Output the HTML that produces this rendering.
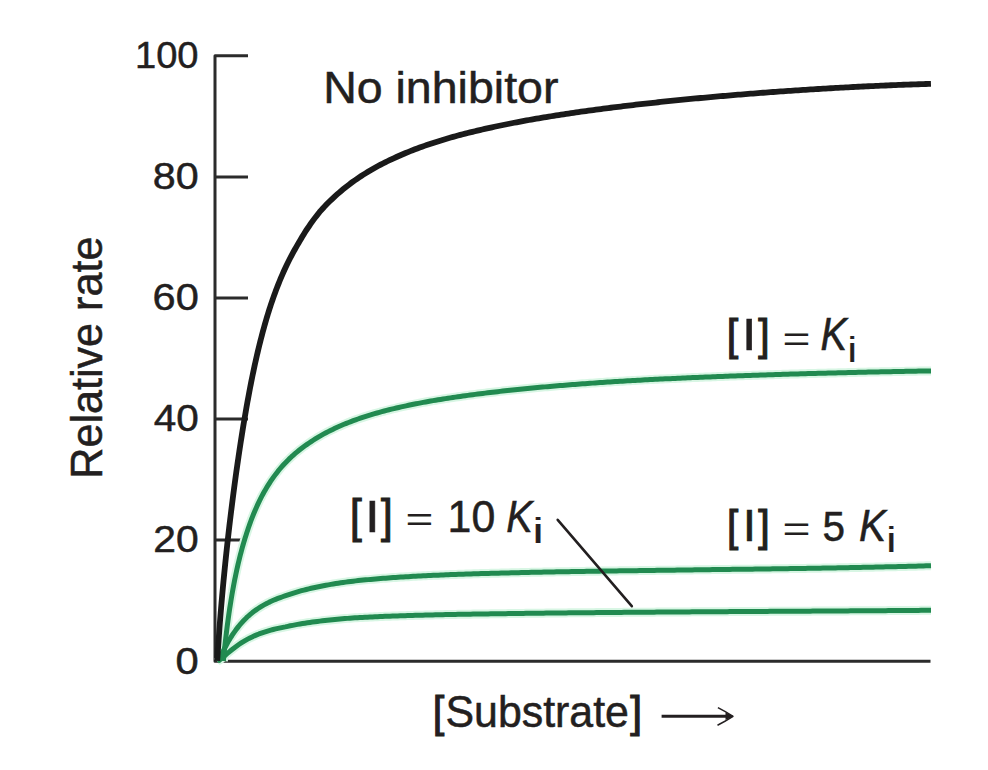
<!DOCTYPE html>
<html><head><meta charset="utf-8"><style>
html,body{margin:0;padding:0;background:#fff;}
body{width:988px;height:770px;overflow:hidden;position:relative;}
svg{position:absolute;left:0;top:0;}
text{font-family:"Liberation Sans",sans-serif;fill:#231f20;}
</style></head><body>
<svg width="988" height="770" viewBox="0 0 988 770">
<g stroke="#2b2b2b" stroke-width="3" fill="none" stroke-linecap="butt">
<path d="M248,55.8 H215 V661.3 H930.5" stroke-linejoin="round"/>
<path d="M215,176.9 H248 M215,297.9 H248 M215,418.9 H248 M215,540 H248"/>
</g>
<g fill="#231f20" stroke="#231f20">
<text transform="translate(134.94,67.71) scale(1.0034,0.9855)" font-size="38" stroke-width="0.5">100</text>
<text transform="translate(152.87,188.90) scale(1.0861,0.9927)" font-size="38" stroke-width="0.5">80</text>
<text transform="translate(152.59,309.91) scale(1.0930,0.9891)" font-size="38" stroke-width="0.5">60</text>
<text transform="translate(153.67,431.21) scale(1.0667,0.9782)" font-size="38" stroke-width="0.5">40</text>
<text transform="translate(153.32,552.21) scale(1.0752,0.9782)" font-size="38" stroke-width="0.5">20</text>
<text transform="translate(175.53,673.90) scale(1.0987,0.9927)" font-size="38" stroke-width="0.5">0</text>
<text transform="translate(323.16,103.23) scale(1.0574,1.0212)" font-size="44" stroke-width="0.5">No inhibitor</text>
<text transform="translate(102.23,478.76) rotate(-90) scale(1.0034,1.0295)" font-size="43" stroke-width="0.5">Relative rate</text>
<text transform="translate(726.64,349.72) scale(1.0054,1.0974)" font-size="41" stroke-width="1.1">[</text>
<text transform="translate(741.95,350.43) scale(1.2706,1.0912)" font-size="41" stroke-width="0.5">I</text>
<text transform="translate(758.15,349.72) scale(0.9946,1.0974)" font-size="41" stroke-width="1.1">]</text>
<text transform="translate(782.46,350.56) scale(1.1700,0.8528)" font-size="41" stroke-width="0">=</text>
<text transform="translate(820.43,350.22) scale(0.9699,1.1158)" font-size="41" stroke-width="0.5" font-style="italic">K</text>
<text transform="translate(847.46,361.90) scale(1.1714,0.9714)" font-size="36" stroke-width="0.2">i</text>
<text transform="translate(349.99,531.55) scale(1.0270,1.1051)" font-size="41" stroke-width="1.1">[</text>
<text transform="translate(365.07,531.83) scale(1.2941,1.0772)" font-size="41" stroke-width="0.5">I</text>
<text transform="translate(380.95,531.55) scale(1.0162,1.1051)" font-size="41" stroke-width="1.1">]</text>
<text transform="translate(405.47,531.45) scale(1.1650,0.8075)" font-size="41" stroke-width="0">=</text>
<text transform="translate(447.57,532.30) scale(1.0448,1.0712)" font-size="41" stroke-width="0.5">10</text>
<text transform="translate(506.23,532.23) scale(0.9664,1.0877)" font-size="41" stroke-width="0.5" font-style="italic">K</text>
<text transform="translate(532.55,542.90) scale(1.4000,0.9752)" font-size="36" stroke-width="0.2">i</text>
<text transform="translate(726.89,540.62) scale(0.9838,1.0974)" font-size="41" stroke-width="1.1">[</text>
<text transform="translate(742.78,540.73) scale(1.1765,1.0632)" font-size="41" stroke-width="0.5">I</text>
<text transform="translate(758.35,540.62) scale(1.0054,1.0974)" font-size="41" stroke-width="1.1">]</text>
<text transform="translate(782.46,541.31) scale(1.1700,0.8604)" font-size="41" stroke-width="0">=</text>
<text transform="translate(822.42,541.01) scale(0.9873,1.0586)" font-size="41" stroke-width="0.5">5</text>
<text transform="translate(859.11,540.93) scale(0.9876,1.0947)" font-size="41" stroke-width="0.5" font-style="italic">K</text>
<text transform="translate(886.27,551.80) scale(1.2571,0.9562)" font-size="36" stroke-width="0.2">i</text>
<text transform="translate(432.69,727.25) scale(0.9641,1.0473)" font-size="43" stroke-width="1.1">[</text>
<text transform="translate(445.45,727.12) scale(0.9975,1.0450)" font-size="43" stroke-width="0.5">Substrate</text>
<text transform="translate(630.15,727.25) scale(0.9949,1.0473)" font-size="43" stroke-width="1.1">]</text>
</g>
<g stroke="#231f20" stroke-width="3" fill="none">
<path d="M661.6,716.3 H729"/>
</g>
<path d="M717.9,707.6 Q725.5,711.4 733,716.3 M717.5,725.2 Q725.5,721.2 733,716.3" stroke="#231f20" stroke-width="1.6" fill="none" stroke-linecap="butt"/>
<path d="M725.5,712.6 L734.2,716.3 L725.5,720 Z" fill="#231f20"/>
<g fill="none" stroke-linecap="butt" stroke-linejoin="round">
<path d="M217.38,661.14 L219.60,659.93 L221.61,658.38 L223.54,656.75 L225.45,655.10 L227.36,653.46 L229.27,651.84 L231.21,650.25 L233.17,648.70 L235.16,647.19 L237.17,645.71 L239.20,644.27 L241.27,642.89 L243.37,641.57 L245.51,640.31 L247.68,639.10 L249.88,637.96 L252.12,636.88 L254.38,635.85 L256.66,634.89 L258.97,633.97 L261.30,633.11 L263.64,632.30 L266.01,631.54 L268.39,630.82 L270.78,630.15 L273.18,629.51 L275.60,628.92 L278.02,628.36 L280.45,627.83 L282.90,627.33 L285.34,626.87 L287.78,626.33 L290.22,625.82 L292.67,625.33 L295.12,624.86 L297.58,624.41 L300.05,623.98 L302.52,623.57 L304.99,623.18 L307.46,622.81 L309.94,622.44 L312.43,622.10 L314.91,621.77 L317.40,621.44 L319.89,621.14 L322.38,620.84 L324.88,620.55 L327.37,620.28 L329.87,620.01 L332.37,619.75 L334.87,619.50 L337.37,619.26 L339.87,619.02 L342.37,618.80 L344.88,618.58 L347.38,618.37 L349.89,618.16 L352.39,618.00 L354.90,617.84 L357.41,617.70 L359.92,617.55 L362.43,617.42 L364.94,617.28 L367.46,617.15 L369.97,617.03 L372.48,616.91 L374.99,616.79 L377.50,616.68 L380.02,616.57 L382.53,616.47 L385.04,616.36 L387.55,616.26 L390.07,616.17 L392.58,616.07 L395.09,615.98 L397.61,615.89 L400.12,615.81 L402.64,615.73 L405.15,615.64 L407.66,615.57 L410.18,615.49 L412.69,615.42 L415.21,615.34 L417.72,615.27 L420.24,615.20 L422.75,615.14 L425.27,615.07 L427.78,615.01 L430.30,614.95 L432.81,614.89 L435.33,614.83 L437.84,614.77 L440.36,614.72 L442.87,614.66 L445.39,614.61 L447.90,614.56 L450.42,614.51 L452.93,614.46 L455.45,614.41 L457.96,614.36 L460.48,614.32 L462.99,614.27 L465.51,614.23 L468.02,614.19 L470.54,614.14 L473.06,614.10 L475.57,614.06 L478.09,614.02 L480.60,613.99 L483.12,613.95 L485.63,613.91 L488.15,613.88 L490.67,613.84 L493.18,613.81 L495.70,613.77 L498.21,613.74 L500.73,613.70 L503.24,613.67 L505.76,613.63 L508.28,613.59 L510.79,613.56 L513.31,613.52 L515.82,613.49 L518.34,613.46 L520.86,613.42 L523.37,613.39 L525.89,613.36 L528.40,613.32 L530.92,613.29 L533.44,613.26 L535.95,613.23 L538.47,613.20 L540.98,613.17 L543.50,613.14 L546.02,613.11 L548.53,613.09 L551.05,613.06 L553.56,613.03 L556.08,613.00 L558.60,612.98 L561.11,612.95 L563.63,612.92 L566.14,612.90 L568.66,612.87 L571.18,612.85 L573.69,612.82 L576.21,612.80 L578.72,612.77 L581.24,612.75 L583.76,612.72 L586.27,612.70 L588.79,612.68 L591.30,612.65 L593.82,612.63 L596.34,612.61 L598.85,612.59 L601.37,612.56 L603.89,612.54 L606.40,612.52 L608.92,612.50 L611.43,612.48 L613.95,612.45 L616.47,612.43 L618.98,612.41 L621.50,612.39 L624.02,612.37 L626.53,612.35 L629.05,612.33 L631.56,612.31 L634.08,612.29 L636.60,612.27 L639.11,612.25 L641.63,612.23 L644.14,612.21 L646.66,612.19 L649.18,612.17 L651.69,612.16 L654.21,612.14 L656.73,612.12 L659.24,612.10 L661.76,612.08 L664.27,612.06 L666.79,612.04 L669.31,612.03 L671.82,612.01 L674.34,611.99 L676.86,611.97 L679.37,611.95 L681.89,611.94 L684.40,611.92 L686.92,611.90 L689.44,611.88 L691.95,611.86 L694.47,611.85 L696.99,611.83 L699.50,611.81 L702.02,611.79 L704.54,611.78 L707.05,611.76 L709.57,611.74 L712.08,611.73 L714.60,611.71 L717.12,611.69 L719.63,611.67 L722.15,611.66 L724.67,611.64 L727.18,611.63 L729.70,611.61 L732.21,611.60 L734.73,611.58 L737.25,611.57 L739.76,611.55 L742.28,611.54 L744.80,611.52 L747.31,611.51 L749.83,611.49 L752.34,611.48 L754.86,611.46 L757.38,611.45 L759.89,611.43 L762.41,611.42 L764.93,611.40 L767.44,611.39 L769.96,611.37 L772.47,611.36 L774.99,611.34 L777.51,611.33 L780.02,611.31 L782.54,611.30 L785.06,611.28 L787.57,611.27 L790.09,611.25 L792.61,611.24 L795.12,611.22 L797.64,611.21 L800.15,611.19 L802.67,611.18 L805.19,611.16 L807.70,611.14 L810.22,611.13 L812.74,611.11 L815.25,611.10 L817.77,611.08 L820.28,611.07 L822.80,611.05 L825.32,611.03 L827.83,611.02 L830.35,611.00 L832.87,610.99 L835.38,610.97 L837.90,610.95 L840.41,610.94 L842.93,610.92 L845.45,610.90 L847.96,610.89 L850.48,610.87 L853.00,610.85 L855.51,610.84 L858.03,610.82 L860.55,610.80 L863.06,610.79 L865.58,610.77 L868.09,610.75 L870.61,610.73 L873.13,610.72 L875.64,610.70 L878.16,610.68 L880.68,610.66 L883.19,610.65 L885.71,610.63 L888.22,610.61 L890.74,610.59 L893.26,610.57 L895.77,610.55 L898.29,610.54 L900.81,610.52 L903.32,610.50 L905.84,610.48 L908.35,610.46 L910.87,610.44 L913.39,610.42 L915.90,610.40 L918.42,610.38 L920.94,610.36 L923.45,610.34 L925.97,610.32 L928.48,610.30 L931.00,610.28" stroke="#d8f6e4" stroke-width="9"/>
<path d="M217.99,661.39 L219.25,659.21 L220.38,656.96 L221.48,654.69 L222.58,652.44 L223.70,650.19 L224.84,647.95 L226.01,645.73 L227.20,643.53 L228.43,641.34 L229.70,639.19 L231.01,637.06 L232.37,634.96 L233.77,632.89 L235.21,630.86 L236.69,628.85 L238.21,626.88 L239.77,624.95 L241.39,623.07 L243.06,621.23 L244.78,619.44 L246.55,617.71 L248.37,616.03 L250.24,614.41 L252.15,612.84 L254.11,611.33 L256.11,609.88 L258.15,608.49 L260.23,607.16 L262.34,605.88 L264.49,604.66 L266.67,603.50 L268.88,602.38 L271.11,601.33 L273.36,600.32 L275.64,599.36 L277.94,598.44 L280.26,597.57 L282.59,596.74 L284.93,595.95 L287.27,595.14 L289.62,594.32 L291.97,593.54 L294.34,592.79 L296.72,592.07 L299.11,591.38 L301.51,590.71 L303.92,590.07 L306.33,589.46 L308.76,588.86 L311.19,588.29 L313.63,587.75 L316.07,587.22 L318.52,586.71 L320.97,586.21 L323.43,585.74 L325.89,585.28 L328.35,584.84 L330.82,584.41 L333.29,583.99 L335.76,583.59 L338.24,583.20 L340.72,582.83 L343.20,582.46 L345.68,582.11 L348.17,581.77 L350.66,581.44 L353.15,581.15 L355.65,580.88 L358.14,580.61 L360.64,580.35 L363.13,580.10 L365.63,579.85 L368.13,579.62 L370.63,579.39 L373.13,579.17 L375.64,578.95 L378.14,578.74 L380.64,578.54 L383.14,578.34 L385.65,578.15 L388.15,577.96 L390.66,577.78 L393.16,577.61 L395.67,577.44 L398.18,577.27 L400.68,577.11 L403.19,576.95 L405.70,576.80 L408.21,576.65 L410.72,576.50 L413.22,576.36 L415.73,576.22 L418.24,576.09 L420.75,575.96 L423.26,575.83 L425.77,575.71 L428.28,575.59 L430.79,575.47 L433.30,575.35 L435.81,575.24 L438.32,575.13 L440.83,575.02 L443.34,574.92 L445.86,574.82 L448.37,574.72 L450.88,574.62 L453.39,574.53 L455.90,574.43 L458.41,574.34 L460.93,574.25 L463.44,574.17 L465.95,574.08 L468.46,574.00 L470.97,573.92 L473.49,573.84 L476.00,573.76 L478.51,573.69 L481.02,573.61 L483.54,573.54 L486.05,573.47 L488.56,573.40 L491.07,573.33 L493.59,573.26 L496.10,573.20 L498.61,573.13 L501.13,573.07 L503.64,573.00 L506.15,572.94 L508.66,572.88 L511.18,572.81 L513.69,572.75 L516.20,572.69 L518.72,572.63 L521.23,572.58 L523.74,572.52 L526.26,572.46 L528.77,572.41 L531.28,572.36 L533.80,572.30 L536.31,572.25 L538.82,572.20 L541.34,572.15 L543.85,572.10 L546.36,572.05 L548.88,572.00 L551.39,571.95 L553.91,571.91 L556.42,571.86 L558.93,571.82 L561.45,571.77 L563.96,571.73 L566.47,571.68 L568.99,571.64 L571.50,571.60 L574.02,571.55 L576.53,571.51 L579.04,571.47 L581.56,571.43 L584.07,571.39 L586.58,571.35 L589.10,571.31 L591.61,571.27 L594.13,571.23 L596.64,571.20 L599.15,571.16 L601.67,571.12 L604.18,571.08 L606.70,571.05 L609.21,571.01 L611.72,570.97 L614.24,570.94 L616.75,570.90 L619.27,570.87 L621.78,570.83 L624.29,570.80 L626.81,570.76 L629.32,570.73 L631.84,570.69 L634.35,570.66 L636.86,570.63 L639.38,570.59 L641.89,570.56 L644.41,570.52 L646.92,570.49 L649.43,570.46 L651.95,570.42 L654.46,570.39 L656.98,570.36 L659.49,570.33 L662.01,570.29 L664.52,570.26 L667.03,570.23 L669.55,570.19 L672.06,570.16 L674.58,570.13 L677.09,570.09 L679.60,570.06 L682.12,570.03 L684.63,569.99 L687.15,569.96 L689.66,569.93 L692.17,569.89 L694.69,569.86 L697.20,569.83 L699.72,569.79 L702.23,569.76 L704.74,569.73 L707.26,569.69 L709.77,569.66 L712.29,569.62 L714.80,569.59 L717.31,569.55 L719.83,569.52 L722.34,569.49 L724.86,569.46 L727.37,569.43 L729.89,569.40 L732.40,569.37 L734.91,569.35 L737.43,569.32 L739.94,569.29 L742.46,569.26 L744.97,569.23 L747.48,569.19 L750.00,569.16 L752.51,569.13 L755.03,569.10 L757.54,569.07 L760.05,569.04 L762.57,569.00 L765.08,568.97 L767.60,568.94 L770.11,568.90 L772.63,568.87 L775.14,568.84 L777.65,568.80 L780.17,568.77 L782.68,568.73 L785.20,568.70 L787.71,568.66 L790.22,568.62 L792.74,568.59 L795.25,568.55 L797.77,568.51 L800.28,568.47 L802.79,568.44 L805.31,568.40 L807.82,568.36 L810.34,568.32 L812.85,568.28 L815.36,568.24 L817.88,568.19 L820.39,568.15 L822.91,568.11 L825.42,568.07 L827.93,568.02 L830.45,567.98 L832.96,567.94 L835.48,567.89 L837.99,567.85 L840.50,567.80 L843.02,567.75 L845.53,567.71 L848.04,567.66 L850.56,567.61 L853.07,567.56 L855.59,567.51 L858.10,567.46 L860.61,567.41 L863.13,567.36 L865.64,567.31 L868.16,567.26 L870.67,567.20 L873.18,567.15 L875.70,567.10 L878.21,567.04 L880.72,566.98 L883.24,566.93 L885.75,566.87 L888.26,566.81 L890.78,566.76 L893.29,566.70 L895.81,566.64 L898.32,566.58 L900.83,566.52 L903.35,566.46 L905.86,566.39 L908.37,566.33 L910.89,566.27 L913.40,566.20 L915.91,566.14 L918.43,566.07 L920.94,566.00 L923.45,565.94 L925.97,565.87 L928.48,565.80 L930.99,565.73" stroke="#d8f6e4" stroke-width="9"/>
<path d="M223.40,661.01 L223.61,658.51 L223.84,656.02 L224.09,653.52 L224.34,651.02 L224.60,648.53 L224.86,646.04 L225.14,643.54 L225.42,641.05 L225.71,638.56 L226.00,636.07 L226.30,633.58 L226.60,631.09 L226.92,628.60 L227.23,626.11 L227.56,623.63 L227.90,621.14 L228.24,618.66 L228.59,616.17 L228.94,613.69 L229.31,611.21 L229.68,608.73 L230.06,606.25 L230.45,603.77 L230.85,601.30 L231.25,598.82 L231.67,596.35 L232.09,593.88 L232.53,591.41 L232.97,588.95 L233.43,586.48 L233.89,584.02 L234.37,581.56 L234.86,579.10 L235.35,576.65 L235.86,574.19 L236.39,571.74 L236.92,569.29 L237.47,566.85 L238.03,564.41 L238.60,561.97 L239.19,559.54 L239.79,557.11 L240.41,554.68 L241.04,552.26 L241.69,549.84 L242.35,547.43 L243.03,545.02 L243.73,542.62 L244.45,540.23 L245.18,537.84 L245.94,535.45 L246.70,533.07 L247.47,530.70 L248.26,528.33 L249.07,525.96 L249.91,523.61 L250.76,521.27 L251.64,518.93 L252.54,516.60 L253.47,514.29 L254.42,511.98 L255.39,509.68 L256.40,507.40 L257.43,505.13 L258.48,502.87 L259.57,500.63 L260.68,498.40 L261.83,496.19 L263.00,493.99 L264.20,491.82 L265.44,489.66 L266.70,487.52 L268.00,485.40 L269.33,483.30 L270.70,481.22 L272.10,479.16 L273.53,477.13 L274.99,475.13 L276.49,473.15 L278.02,471.19 L279.59,469.27 L281.19,467.37 L282.83,465.52 L284.51,463.69 L286.23,461.90 L287.97,460.14 L289.75,458.41 L291.55,456.71 L293.39,455.05 L295.25,453.42 L297.15,451.83 L299.07,450.27 L301.02,448.74 L303.00,447.25 L305.00,445.79 L307.02,444.37 L309.07,442.98 L311.14,441.62 L313.21,440.26 L315.30,438.94 L317.41,437.64 L319.54,436.37 L321.69,435.14 L323.85,433.93 L326.03,432.75 L328.23,431.60 L330.45,430.48 L332.68,429.39 L334.92,428.32 L337.18,427.28 L339.45,426.27 L341.73,425.28 L344.02,424.31 L346.32,423.37 L348.63,422.45 L350.95,421.56 L353.28,420.68 L355.62,419.83 L357.97,419.00 L360.33,418.18 L362.69,417.39 L365.06,416.62 L367.43,415.86 L369.82,415.12 L372.20,414.40 L374.60,413.69 L376.99,413.00 L379.40,412.33 L381.81,411.67 L384.22,411.03 L386.63,410.40 L389.05,409.78 L391.48,409.18 L393.91,408.59 L396.34,408.01 L398.77,407.45 L401.21,406.89 L403.65,406.35 L406.09,405.82 L408.54,405.30 L410.99,404.80 L413.44,404.30 L415.89,403.81 L418.35,403.33 L420.80,402.86 L423.26,402.40 L425.72,401.95 L428.19,401.51 L430.65,401.07 L433.12,400.65 L435.59,400.23 L438.06,399.82 L440.53,399.42 L443.00,399.02 L445.47,398.63 L447.95,398.25 L450.42,397.88 L452.90,397.51 L455.38,397.15 L457.86,396.79 L460.34,396.44 L462.82,396.08 L465.30,395.73 L467.78,395.39 L470.26,395.05 L472.74,394.72 L475.23,394.39 L477.71,394.06 L480.20,393.75 L482.68,393.43 L485.17,393.12 L487.66,392.82 L490.15,392.52 L492.63,392.22 L495.12,391.93 L497.61,391.65 L500.11,391.36 L502.60,391.08 L505.09,390.81 L507.58,390.54 L510.07,390.27 L512.57,390.01 L515.06,389.75 L517.55,389.49 L520.05,389.24 L522.54,388.99 L525.04,388.74 L527.53,388.50 L530.03,388.26 L532.53,388.02 L535.02,387.79 L537.52,387.56 L540.02,387.33 L542.52,387.11 L545.01,386.88 L547.51,386.66 L550.01,386.45 L552.51,386.23 L555.01,386.02 L557.51,385.81 L560.01,385.61 L562.51,385.40 L565.01,385.20 L567.51,385.00 L570.01,384.80 L572.51,384.61 L575.01,384.42 L577.51,384.23 L580.01,384.04 L582.52,383.85 L585.02,383.67 L587.52,383.49 L590.02,383.31 L592.52,383.13 L595.03,382.95 L597.53,382.78 L600.03,382.61 L602.53,382.44 L605.04,382.27 L607.54,382.10 L610.04,381.94 L612.55,381.77 L615.05,381.61 L617.56,381.45 L620.06,381.29 L622.56,381.14 L625.07,380.98 L627.57,380.83 L630.08,380.68 L632.58,380.54 L635.09,380.40 L637.59,380.27 L640.10,380.13 L642.60,380.00 L645.11,379.87 L647.61,379.74 L650.12,379.61 L652.63,379.48 L655.13,379.36 L657.64,379.23 L660.14,379.11 L662.65,378.99 L665.16,378.87 L667.66,378.75 L670.17,378.63 L672.67,378.51 L675.18,378.40 L677.69,378.28 L680.19,378.17 L682.70,378.06 L685.21,377.94 L687.71,377.83 L690.22,377.72 L692.73,377.62 L695.23,377.51 L697.74,377.40 L700.25,377.30 L702.75,377.20 L705.26,377.09 L707.77,376.99 L710.28,376.89 L712.78,376.79 L715.29,376.69 L717.80,376.59 L720.31,376.50 L722.81,376.40 L725.32,376.30 L727.83,376.21 L730.33,376.12 L732.84,376.02 L735.35,375.93 L737.86,375.84 L740.37,375.75 L742.87,375.66 L745.38,375.57 L747.89,375.49 L750.40,375.40 L752.90,375.31 L755.41,375.23 L757.92,375.15 L760.43,375.06 L762.94,374.98 L765.44,374.90 L767.95,374.82 L770.46,374.74 L772.97,374.66 L775.48,374.58 L777.98,374.50 L780.49,374.42 L783.00,374.35 L785.51,374.27 L788.02,374.19 L790.52,374.12 L793.03,374.05 L795.54,373.97 L798.05,373.90 L800.56,373.83 L803.07,373.76 L805.57,373.69 L808.08,373.62 L810.59,373.55 L813.10,373.48 L815.61,373.41 L818.12,373.34 L820.62,373.28 L823.13,373.21 L825.64,373.15 L828.15,373.08 L830.66,373.02 L833.17,372.95 L835.68,372.89 L838.18,372.83 L840.69,372.77 L843.20,372.70 L845.71,372.64 L848.22,372.58 L850.73,372.52 L853.24,372.46 L855.74,372.41 L858.25,372.35 L860.76,372.29 L863.27,372.23 L865.78,372.18 L868.29,372.12 L870.80,372.07 L873.31,372.01 L875.81,371.96 L878.32,371.90 L880.83,371.85 L883.34,371.80 L885.85,371.75 L888.36,371.70 L890.87,371.65 L893.38,371.59 L895.88,371.54 L898.39,371.50 L900.90,371.45 L903.41,371.40 L905.92,371.35 L908.43,371.30 L910.94,371.26 L913.45,371.21 L915.96,371.16 L918.47,371.12 L920.97,371.07 L923.48,371.03 L925.99,370.98 L928.50,370.94 L931.01,370.90" stroke="#d8f6e4" stroke-width="9"/>
<path d="M217.38,661.14 L219.60,659.93 L221.61,658.38 L223.54,656.75 L225.45,655.10 L227.36,653.46 L229.27,651.84 L231.21,650.25 L233.17,648.70 L235.16,647.19 L237.17,645.71 L239.20,644.27 L241.27,642.89 L243.37,641.57 L245.51,640.31 L247.68,639.10 L249.88,637.96 L252.12,636.88 L254.38,635.85 L256.66,634.89 L258.97,633.97 L261.30,633.11 L263.64,632.30 L266.01,631.54 L268.39,630.82 L270.78,630.15 L273.18,629.51 L275.60,628.92 L278.02,628.36 L280.45,627.83 L282.90,627.33 L285.34,626.87 L287.78,626.33 L290.22,625.82 L292.67,625.33 L295.12,624.86 L297.58,624.41 L300.05,623.98 L302.52,623.57 L304.99,623.18 L307.46,622.81 L309.94,622.44 L312.43,622.10 L314.91,621.77 L317.40,621.44 L319.89,621.14 L322.38,620.84 L324.88,620.55 L327.37,620.28 L329.87,620.01 L332.37,619.75 L334.87,619.50 L337.37,619.26 L339.87,619.02 L342.37,618.80 L344.88,618.58 L347.38,618.37 L349.89,618.16 L352.39,618.00 L354.90,617.84 L357.41,617.70 L359.92,617.55 L362.43,617.42 L364.94,617.28 L367.46,617.15 L369.97,617.03 L372.48,616.91 L374.99,616.79 L377.50,616.68 L380.02,616.57 L382.53,616.47 L385.04,616.36 L387.55,616.26 L390.07,616.17 L392.58,616.07 L395.09,615.98 L397.61,615.89 L400.12,615.81 L402.64,615.73 L405.15,615.64 L407.66,615.57 L410.18,615.49 L412.69,615.42 L415.21,615.34 L417.72,615.27 L420.24,615.20 L422.75,615.14 L425.27,615.07 L427.78,615.01 L430.30,614.95 L432.81,614.89 L435.33,614.83 L437.84,614.77 L440.36,614.72 L442.87,614.66 L445.39,614.61 L447.90,614.56 L450.42,614.51 L452.93,614.46 L455.45,614.41 L457.96,614.36 L460.48,614.32 L462.99,614.27 L465.51,614.23 L468.02,614.19 L470.54,614.14 L473.06,614.10 L475.57,614.06 L478.09,614.02 L480.60,613.99 L483.12,613.95 L485.63,613.91 L488.15,613.88 L490.67,613.84 L493.18,613.81 L495.70,613.77 L498.21,613.74 L500.73,613.70 L503.24,613.67 L505.76,613.63 L508.28,613.59 L510.79,613.56 L513.31,613.52 L515.82,613.49 L518.34,613.46 L520.86,613.42 L523.37,613.39 L525.89,613.36 L528.40,613.32 L530.92,613.29 L533.44,613.26 L535.95,613.23 L538.47,613.20 L540.98,613.17 L543.50,613.14 L546.02,613.11 L548.53,613.09 L551.05,613.06 L553.56,613.03 L556.08,613.00 L558.60,612.98 L561.11,612.95 L563.63,612.92 L566.14,612.90 L568.66,612.87 L571.18,612.85 L573.69,612.82 L576.21,612.80 L578.72,612.77 L581.24,612.75 L583.76,612.72 L586.27,612.70 L588.79,612.68 L591.30,612.65 L593.82,612.63 L596.34,612.61 L598.85,612.59 L601.37,612.56 L603.89,612.54 L606.40,612.52 L608.92,612.50 L611.43,612.48 L613.95,612.45 L616.47,612.43 L618.98,612.41 L621.50,612.39 L624.02,612.37 L626.53,612.35 L629.05,612.33 L631.56,612.31 L634.08,612.29 L636.60,612.27 L639.11,612.25 L641.63,612.23 L644.14,612.21 L646.66,612.19 L649.18,612.17 L651.69,612.16 L654.21,612.14 L656.73,612.12 L659.24,612.10 L661.76,612.08 L664.27,612.06 L666.79,612.04 L669.31,612.03 L671.82,612.01 L674.34,611.99 L676.86,611.97 L679.37,611.95 L681.89,611.94 L684.40,611.92 L686.92,611.90 L689.44,611.88 L691.95,611.86 L694.47,611.85 L696.99,611.83 L699.50,611.81 L702.02,611.79 L704.54,611.78 L707.05,611.76 L709.57,611.74 L712.08,611.73 L714.60,611.71 L717.12,611.69 L719.63,611.67 L722.15,611.66 L724.67,611.64 L727.18,611.63 L729.70,611.61 L732.21,611.60 L734.73,611.58 L737.25,611.57 L739.76,611.55 L742.28,611.54 L744.80,611.52 L747.31,611.51 L749.83,611.49 L752.34,611.48 L754.86,611.46 L757.38,611.45 L759.89,611.43 L762.41,611.42 L764.93,611.40 L767.44,611.39 L769.96,611.37 L772.47,611.36 L774.99,611.34 L777.51,611.33 L780.02,611.31 L782.54,611.30 L785.06,611.28 L787.57,611.27 L790.09,611.25 L792.61,611.24 L795.12,611.22 L797.64,611.21 L800.15,611.19 L802.67,611.18 L805.19,611.16 L807.70,611.14 L810.22,611.13 L812.74,611.11 L815.25,611.10 L817.77,611.08 L820.28,611.07 L822.80,611.05 L825.32,611.03 L827.83,611.02 L830.35,611.00 L832.87,610.99 L835.38,610.97 L837.90,610.95 L840.41,610.94 L842.93,610.92 L845.45,610.90 L847.96,610.89 L850.48,610.87 L853.00,610.85 L855.51,610.84 L858.03,610.82 L860.55,610.80 L863.06,610.79 L865.58,610.77 L868.09,610.75 L870.61,610.73 L873.13,610.72 L875.64,610.70 L878.16,610.68 L880.68,610.66 L883.19,610.65 L885.71,610.63 L888.22,610.61 L890.74,610.59 L893.26,610.57 L895.77,610.55 L898.29,610.54 L900.81,610.52 L903.32,610.50 L905.84,610.48 L908.35,610.46 L910.87,610.44 L913.39,610.42 L915.90,610.40 L918.42,610.38 L920.94,610.36 L923.45,610.34 L925.97,610.32 L928.48,610.30 L931.00,610.28" stroke="#218a50" stroke-width="5"/>
<path d="M217.99,661.39 L219.25,659.21 L220.38,656.96 L221.48,654.69 L222.58,652.44 L223.70,650.19 L224.84,647.95 L226.01,645.73 L227.20,643.53 L228.43,641.34 L229.70,639.19 L231.01,637.06 L232.37,634.96 L233.77,632.89 L235.21,630.86 L236.69,628.85 L238.21,626.88 L239.77,624.95 L241.39,623.07 L243.06,621.23 L244.78,619.44 L246.55,617.71 L248.37,616.03 L250.24,614.41 L252.15,612.84 L254.11,611.33 L256.11,609.88 L258.15,608.49 L260.23,607.16 L262.34,605.88 L264.49,604.66 L266.67,603.50 L268.88,602.38 L271.11,601.33 L273.36,600.32 L275.64,599.36 L277.94,598.44 L280.26,597.57 L282.59,596.74 L284.93,595.95 L287.27,595.14 L289.62,594.32 L291.97,593.54 L294.34,592.79 L296.72,592.07 L299.11,591.38 L301.51,590.71 L303.92,590.07 L306.33,589.46 L308.76,588.86 L311.19,588.29 L313.63,587.75 L316.07,587.22 L318.52,586.71 L320.97,586.21 L323.43,585.74 L325.89,585.28 L328.35,584.84 L330.82,584.41 L333.29,583.99 L335.76,583.59 L338.24,583.20 L340.72,582.83 L343.20,582.46 L345.68,582.11 L348.17,581.77 L350.66,581.44 L353.15,581.15 L355.65,580.88 L358.14,580.61 L360.64,580.35 L363.13,580.10 L365.63,579.85 L368.13,579.62 L370.63,579.39 L373.13,579.17 L375.64,578.95 L378.14,578.74 L380.64,578.54 L383.14,578.34 L385.65,578.15 L388.15,577.96 L390.66,577.78 L393.16,577.61 L395.67,577.44 L398.18,577.27 L400.68,577.11 L403.19,576.95 L405.70,576.80 L408.21,576.65 L410.72,576.50 L413.22,576.36 L415.73,576.22 L418.24,576.09 L420.75,575.96 L423.26,575.83 L425.77,575.71 L428.28,575.59 L430.79,575.47 L433.30,575.35 L435.81,575.24 L438.32,575.13 L440.83,575.02 L443.34,574.92 L445.86,574.82 L448.37,574.72 L450.88,574.62 L453.39,574.53 L455.90,574.43 L458.41,574.34 L460.93,574.25 L463.44,574.17 L465.95,574.08 L468.46,574.00 L470.97,573.92 L473.49,573.84 L476.00,573.76 L478.51,573.69 L481.02,573.61 L483.54,573.54 L486.05,573.47 L488.56,573.40 L491.07,573.33 L493.59,573.26 L496.10,573.20 L498.61,573.13 L501.13,573.07 L503.64,573.00 L506.15,572.94 L508.66,572.88 L511.18,572.81 L513.69,572.75 L516.20,572.69 L518.72,572.63 L521.23,572.58 L523.74,572.52 L526.26,572.46 L528.77,572.41 L531.28,572.36 L533.80,572.30 L536.31,572.25 L538.82,572.20 L541.34,572.15 L543.85,572.10 L546.36,572.05 L548.88,572.00 L551.39,571.95 L553.91,571.91 L556.42,571.86 L558.93,571.82 L561.45,571.77 L563.96,571.73 L566.47,571.68 L568.99,571.64 L571.50,571.60 L574.02,571.55 L576.53,571.51 L579.04,571.47 L581.56,571.43 L584.07,571.39 L586.58,571.35 L589.10,571.31 L591.61,571.27 L594.13,571.23 L596.64,571.20 L599.15,571.16 L601.67,571.12 L604.18,571.08 L606.70,571.05 L609.21,571.01 L611.72,570.97 L614.24,570.94 L616.75,570.90 L619.27,570.87 L621.78,570.83 L624.29,570.80 L626.81,570.76 L629.32,570.73 L631.84,570.69 L634.35,570.66 L636.86,570.63 L639.38,570.59 L641.89,570.56 L644.41,570.52 L646.92,570.49 L649.43,570.46 L651.95,570.42 L654.46,570.39 L656.98,570.36 L659.49,570.33 L662.01,570.29 L664.52,570.26 L667.03,570.23 L669.55,570.19 L672.06,570.16 L674.58,570.13 L677.09,570.09 L679.60,570.06 L682.12,570.03 L684.63,569.99 L687.15,569.96 L689.66,569.93 L692.17,569.89 L694.69,569.86 L697.20,569.83 L699.72,569.79 L702.23,569.76 L704.74,569.73 L707.26,569.69 L709.77,569.66 L712.29,569.62 L714.80,569.59 L717.31,569.55 L719.83,569.52 L722.34,569.49 L724.86,569.46 L727.37,569.43 L729.89,569.40 L732.40,569.37 L734.91,569.35 L737.43,569.32 L739.94,569.29 L742.46,569.26 L744.97,569.23 L747.48,569.19 L750.00,569.16 L752.51,569.13 L755.03,569.10 L757.54,569.07 L760.05,569.04 L762.57,569.00 L765.08,568.97 L767.60,568.94 L770.11,568.90 L772.63,568.87 L775.14,568.84 L777.65,568.80 L780.17,568.77 L782.68,568.73 L785.20,568.70 L787.71,568.66 L790.22,568.62 L792.74,568.59 L795.25,568.55 L797.77,568.51 L800.28,568.47 L802.79,568.44 L805.31,568.40 L807.82,568.36 L810.34,568.32 L812.85,568.28 L815.36,568.24 L817.88,568.19 L820.39,568.15 L822.91,568.11 L825.42,568.07 L827.93,568.02 L830.45,567.98 L832.96,567.94 L835.48,567.89 L837.99,567.85 L840.50,567.80 L843.02,567.75 L845.53,567.71 L848.04,567.66 L850.56,567.61 L853.07,567.56 L855.59,567.51 L858.10,567.46 L860.61,567.41 L863.13,567.36 L865.64,567.31 L868.16,567.26 L870.67,567.20 L873.18,567.15 L875.70,567.10 L878.21,567.04 L880.72,566.98 L883.24,566.93 L885.75,566.87 L888.26,566.81 L890.78,566.76 L893.29,566.70 L895.81,566.64 L898.32,566.58 L900.83,566.52 L903.35,566.46 L905.86,566.39 L908.37,566.33 L910.89,566.27 L913.40,566.20 L915.91,566.14 L918.43,566.07 L920.94,566.00 L923.45,565.94 L925.97,565.87 L928.48,565.80 L930.99,565.73" stroke="#218a50" stroke-width="5"/>
<path d="M223.40,661.01 L223.61,658.51 L223.84,656.02 L224.09,653.52 L224.34,651.02 L224.60,648.53 L224.86,646.04 L225.14,643.54 L225.42,641.05 L225.71,638.56 L226.00,636.07 L226.30,633.58 L226.60,631.09 L226.92,628.60 L227.23,626.11 L227.56,623.63 L227.90,621.14 L228.24,618.66 L228.59,616.17 L228.94,613.69 L229.31,611.21 L229.68,608.73 L230.06,606.25 L230.45,603.77 L230.85,601.30 L231.25,598.82 L231.67,596.35 L232.09,593.88 L232.53,591.41 L232.97,588.95 L233.43,586.48 L233.89,584.02 L234.37,581.56 L234.86,579.10 L235.35,576.65 L235.86,574.19 L236.39,571.74 L236.92,569.29 L237.47,566.85 L238.03,564.41 L238.60,561.97 L239.19,559.54 L239.79,557.11 L240.41,554.68 L241.04,552.26 L241.69,549.84 L242.35,547.43 L243.03,545.02 L243.73,542.62 L244.45,540.23 L245.18,537.84 L245.94,535.45 L246.70,533.07 L247.47,530.70 L248.26,528.33 L249.07,525.96 L249.91,523.61 L250.76,521.27 L251.64,518.93 L252.54,516.60 L253.47,514.29 L254.42,511.98 L255.39,509.68 L256.40,507.40 L257.43,505.13 L258.48,502.87 L259.57,500.63 L260.68,498.40 L261.83,496.19 L263.00,493.99 L264.20,491.82 L265.44,489.66 L266.70,487.52 L268.00,485.40 L269.33,483.30 L270.70,481.22 L272.10,479.16 L273.53,477.13 L274.99,475.13 L276.49,473.15 L278.02,471.19 L279.59,469.27 L281.19,467.37 L282.83,465.52 L284.51,463.69 L286.23,461.90 L287.97,460.14 L289.75,458.41 L291.55,456.71 L293.39,455.05 L295.25,453.42 L297.15,451.83 L299.07,450.27 L301.02,448.74 L303.00,447.25 L305.00,445.79 L307.02,444.37 L309.07,442.98 L311.14,441.62 L313.21,440.26 L315.30,438.94 L317.41,437.64 L319.54,436.37 L321.69,435.14 L323.85,433.93 L326.03,432.75 L328.23,431.60 L330.45,430.48 L332.68,429.39 L334.92,428.32 L337.18,427.28 L339.45,426.27 L341.73,425.28 L344.02,424.31 L346.32,423.37 L348.63,422.45 L350.95,421.56 L353.28,420.68 L355.62,419.83 L357.97,419.00 L360.33,418.18 L362.69,417.39 L365.06,416.62 L367.43,415.86 L369.82,415.12 L372.20,414.40 L374.60,413.69 L376.99,413.00 L379.40,412.33 L381.81,411.67 L384.22,411.03 L386.63,410.40 L389.05,409.78 L391.48,409.18 L393.91,408.59 L396.34,408.01 L398.77,407.45 L401.21,406.89 L403.65,406.35 L406.09,405.82 L408.54,405.30 L410.99,404.80 L413.44,404.30 L415.89,403.81 L418.35,403.33 L420.80,402.86 L423.26,402.40 L425.72,401.95 L428.19,401.51 L430.65,401.07 L433.12,400.65 L435.59,400.23 L438.06,399.82 L440.53,399.42 L443.00,399.02 L445.47,398.63 L447.95,398.25 L450.42,397.88 L452.90,397.51 L455.38,397.15 L457.86,396.79 L460.34,396.44 L462.82,396.08 L465.30,395.73 L467.78,395.39 L470.26,395.05 L472.74,394.72 L475.23,394.39 L477.71,394.06 L480.20,393.75 L482.68,393.43 L485.17,393.12 L487.66,392.82 L490.15,392.52 L492.63,392.22 L495.12,391.93 L497.61,391.65 L500.11,391.36 L502.60,391.08 L505.09,390.81 L507.58,390.54 L510.07,390.27 L512.57,390.01 L515.06,389.75 L517.55,389.49 L520.05,389.24 L522.54,388.99 L525.04,388.74 L527.53,388.50 L530.03,388.26 L532.53,388.02 L535.02,387.79 L537.52,387.56 L540.02,387.33 L542.52,387.11 L545.01,386.88 L547.51,386.66 L550.01,386.45 L552.51,386.23 L555.01,386.02 L557.51,385.81 L560.01,385.61 L562.51,385.40 L565.01,385.20 L567.51,385.00 L570.01,384.80 L572.51,384.61 L575.01,384.42 L577.51,384.23 L580.01,384.04 L582.52,383.85 L585.02,383.67 L587.52,383.49 L590.02,383.31 L592.52,383.13 L595.03,382.95 L597.53,382.78 L600.03,382.61 L602.53,382.44 L605.04,382.27 L607.54,382.10 L610.04,381.94 L612.55,381.77 L615.05,381.61 L617.56,381.45 L620.06,381.29 L622.56,381.14 L625.07,380.98 L627.57,380.83 L630.08,380.68 L632.58,380.54 L635.09,380.40 L637.59,380.27 L640.10,380.13 L642.60,380.00 L645.11,379.87 L647.61,379.74 L650.12,379.61 L652.63,379.48 L655.13,379.36 L657.64,379.23 L660.14,379.11 L662.65,378.99 L665.16,378.87 L667.66,378.75 L670.17,378.63 L672.67,378.51 L675.18,378.40 L677.69,378.28 L680.19,378.17 L682.70,378.06 L685.21,377.94 L687.71,377.83 L690.22,377.72 L692.73,377.62 L695.23,377.51 L697.74,377.40 L700.25,377.30 L702.75,377.20 L705.26,377.09 L707.77,376.99 L710.28,376.89 L712.78,376.79 L715.29,376.69 L717.80,376.59 L720.31,376.50 L722.81,376.40 L725.32,376.30 L727.83,376.21 L730.33,376.12 L732.84,376.02 L735.35,375.93 L737.86,375.84 L740.37,375.75 L742.87,375.66 L745.38,375.57 L747.89,375.49 L750.40,375.40 L752.90,375.31 L755.41,375.23 L757.92,375.15 L760.43,375.06 L762.94,374.98 L765.44,374.90 L767.95,374.82 L770.46,374.74 L772.97,374.66 L775.48,374.58 L777.98,374.50 L780.49,374.42 L783.00,374.35 L785.51,374.27 L788.02,374.19 L790.52,374.12 L793.03,374.05 L795.54,373.97 L798.05,373.90 L800.56,373.83 L803.07,373.76 L805.57,373.69 L808.08,373.62 L810.59,373.55 L813.10,373.48 L815.61,373.41 L818.12,373.34 L820.62,373.28 L823.13,373.21 L825.64,373.15 L828.15,373.08 L830.66,373.02 L833.17,372.95 L835.68,372.89 L838.18,372.83 L840.69,372.77 L843.20,372.70 L845.71,372.64 L848.22,372.58 L850.73,372.52 L853.24,372.46 L855.74,372.41 L858.25,372.35 L860.76,372.29 L863.27,372.23 L865.78,372.18 L868.29,372.12 L870.80,372.07 L873.31,372.01 L875.81,371.96 L878.32,371.90 L880.83,371.85 L883.34,371.80 L885.85,371.75 L888.36,371.70 L890.87,371.65 L893.38,371.59 L895.88,371.54 L898.39,371.50 L900.90,371.45 L903.41,371.40 L905.92,371.35 L908.43,371.30 L910.94,371.26 L913.45,371.21 L915.96,371.16 L918.47,371.12 L920.97,371.07 L923.48,371.03 L925.99,370.98 L928.50,370.94 L931.01,370.90" stroke="#218a50" stroke-width="5"/>
<path d="M217.23,660.89 L217.39,658.38 L217.55,655.88 L217.71,653.37 L217.88,650.87 L218.04,648.37 L218.21,645.86 L218.39,643.36 L218.56,640.86 L218.74,638.35 L218.92,635.85 L219.10,633.35 L219.28,630.84 L219.47,628.34 L219.66,625.84 L219.85,623.34 L220.05,620.84 L220.25,618.34 L220.45,615.84 L220.65,613.33 L220.86,610.83 L221.07,608.33 L221.28,605.83 L221.49,603.33 L221.71,600.83 L221.93,598.33 L222.15,595.83 L222.37,593.34 L222.60,590.84 L222.83,588.34 L223.06,585.84 L223.30,583.34 L223.53,580.84 L223.77,578.35 L224.02,575.85 L224.26,573.35 L224.51,570.85 L224.76,568.36 L225.01,565.86 L225.26,563.37 L225.52,560.87 L225.78,558.37 L226.04,555.88 L226.31,553.38 L226.58,550.89 L226.84,548.39 L227.12,545.90 L227.39,543.41 L227.67,540.91 L227.95,538.42 L228.23,535.93 L228.51,533.43 L228.80,530.94 L229.09,528.45 L229.38,525.96 L229.68,523.46 L229.97,520.97 L230.27,518.48 L230.57,515.99 L230.88,513.50 L231.18,511.01 L231.49,508.52 L231.80,506.03 L232.11,503.54 L232.43,501.05 L232.75,498.56 L233.07,496.08 L233.39,493.59 L233.72,491.10 L234.05,488.61 L234.38,486.13 L234.71,483.64 L235.05,481.15 L235.39,478.67 L235.73,476.18 L236.08,473.70 L236.42,471.21 L236.78,468.73 L237.13,466.25 L237.49,463.76 L237.85,461.28 L238.21,458.80 L238.57,456.31 L238.94,453.83 L239.31,451.35 L239.69,448.87 L240.07,446.39 L240.45,443.91 L240.83,441.43 L241.22,438.95 L241.61,436.48 L242.00,434.00 L242.40,431.52 L242.80,429.05 L243.21,426.57 L243.62,424.09 L244.03,421.62 L244.44,419.15 L244.86,416.67 L245.29,414.20 L245.72,411.73 L246.15,409.26 L246.58,406.79 L247.02,404.32 L247.47,401.85 L247.92,399.38 L248.37,396.92 L248.83,394.45 L249.29,391.98 L249.76,389.52 L250.23,387.06 L250.71,384.59 L251.19,382.13 L251.69,379.68 L252.18,377.22 L252.69,374.76 L253.20,372.31 L253.72,369.85 L254.24,367.40 L254.77,364.95 L255.31,362.50 L255.85,360.05 L256.41,357.61 L256.97,355.17 L257.54,352.72 L258.12,350.29 L258.70,347.85 L259.30,345.41 L259.90,342.98 L260.52,340.55 L261.14,338.12 L261.77,335.70 L262.41,333.27 L263.06,330.85 L263.72,328.44 L264.39,326.02 L265.07,323.61 L265.76,321.21 L266.47,318.80 L267.19,316.40 L267.92,314.01 L268.66,311.62 L269.42,309.23 L270.19,306.85 L270.97,304.47 L271.77,302.09 L272.58,299.73 L273.41,297.36 L274.25,295.01 L275.11,292.66 L275.98,290.31 L276.87,287.97 L277.78,285.64 L278.70,283.31 L279.64,281.00 L280.60,278.68 L281.58,276.38 L282.57,274.09 L283.59,271.80 L284.62,269.52 L285.67,267.25 L286.74,265.00 L287.83,262.75 L288.95,260.51 L290.08,258.28 L291.23,256.06 L292.41,253.86 L293.60,251.67 L294.82,249.49 L296.06,247.32 L297.32,245.16 L298.58,243.01 L299.82,240.84 L301.08,238.68 L302.36,236.54 L303.67,234.41 L305.00,232.29 L306.35,230.19 L307.73,228.10 L309.14,226.02 L310.56,223.97 L312.01,221.92 L313.49,219.90 L314.98,217.89 L316.51,215.90 L318.05,213.92 L319.62,211.96 L321.28,210.07 L322.97,208.22 L324.68,206.39 L326.42,204.58 L328.18,202.80 L329.97,201.03 L331.77,199.29 L333.60,197.57 L335.45,195.88 L337.32,194.21 L339.21,192.56 L341.12,190.94 L343.05,189.34 L345.00,187.76 L346.97,186.21 L348.96,184.68 L350.96,183.18 L352.99,181.70 L355.03,180.25 L357.09,178.82 L359.16,177.41 L361.25,176.03 L363.36,174.67 L365.48,173.34 L367.61,172.02 L369.76,170.74 L371.92,169.47 L374.10,168.23 L376.29,167.01 L378.49,165.81 L380.70,164.64 L382.92,163.49 L385.16,162.35 L387.40,161.24 L389.66,160.15 L391.92,159.08 L394.20,158.03 L396.48,157.00 L398.77,155.99 L401.07,155.00 L403.37,154.01 L405.68,153.04 L408.00,152.08 L410.32,151.15 L412.65,150.23 L414.99,149.33 L417.33,148.44 L419.68,147.57 L422.04,146.72 L424.40,145.88 L426.76,145.06 L429.13,144.25 L431.51,143.45 L433.89,142.67 L436.28,141.91 L438.67,141.15 L441.06,140.41 L443.46,139.68 L445.86,138.97 L448.27,138.26 L450.67,137.57 L453.09,136.89 L455.50,136.22 L457.92,135.56 L460.34,134.91 L462.77,134.27 L465.19,133.65 L467.62,133.03 L470.05,132.42 L472.49,131.82 L474.92,131.23 L477.36,130.64 L479.80,130.07 L482.25,129.50 L484.69,128.94 L487.13,128.39 L489.58,127.84 L492.03,127.30 L494.48,126.77 L496.93,126.25 L499.39,125.73 L501.84,125.22 L504.30,124.72 L506.76,124.22 L509.22,123.73 L511.68,123.25 L514.14,122.77 L516.60,122.29 L519.07,121.83 L521.53,121.37 L524.00,120.91 L526.47,120.46 L528.93,120.02 L531.40,119.58 L533.87,119.14 L536.35,118.71 L538.82,118.29 L541.29,117.87 L543.76,117.46 L546.24,117.05 L548.71,116.64 L551.19,116.24 L553.67,115.84 L556.14,115.45 L558.62,115.06 L561.10,114.68 L563.58,114.30 L566.06,113.92 L568.54,113.55 L571.02,113.18 L573.50,112.82 L575.99,112.46 L578.47,112.10 L580.95,111.74 L583.44,111.39 L585.92,111.05 L588.41,110.70 L590.89,110.36 L593.38,110.02 L595.86,109.69 L598.35,109.36 L600.84,109.03 L603.33,108.71 L605.81,108.39 L608.30,108.07 L610.79,107.75 L613.28,107.44 L615.77,107.13 L618.26,106.82 L620.75,106.52 L623.24,106.21 L625.73,105.91 L628.22,105.62 L630.71,105.32 L633.21,105.03 L635.70,104.74 L638.19,104.46 L640.68,104.17 L643.18,103.89 L645.67,103.61 L648.16,103.33 L650.66,103.06 L653.15,102.79 L655.64,102.52 L658.14,102.25 L660.63,101.98 L663.13,101.72 L665.62,101.46 L668.12,101.20 L670.62,100.94 L673.11,100.68 L675.61,100.43 L678.10,100.18 L680.60,99.93 L683.10,99.68 L685.59,99.44 L688.09,99.20 L690.59,98.96 L693.09,98.72 L695.58,98.48 L698.08,98.24 L700.58,98.01 L703.08,97.78 L705.58,97.55 L708.08,97.32 L710.57,97.10 L713.07,96.87 L715.57,96.65 L718.07,96.43 L720.57,96.21 L723.07,96.00 L725.57,95.78 L728.07,95.57 L730.57,95.36 L733.07,95.15 L735.57,94.94 L738.07,94.73 L740.57,94.52 L743.07,94.32 L745.57,94.12 L748.08,93.92 L750.58,93.72 L753.08,93.52 L755.58,93.33 L758.08,93.14 L760.58,92.94 L763.09,92.75 L765.59,92.57 L768.09,92.38 L770.59,92.19 L773.09,92.01 L775.60,91.83 L778.10,91.65 L780.60,91.47 L783.10,91.29 L785.61,91.12 L788.11,90.95 L790.61,90.77 L793.12,90.60 L795.62,90.44 L798.12,90.27 L800.63,90.10 L803.13,89.94 L805.64,89.78 L808.14,89.62 L810.64,89.46 L813.15,89.30 L815.65,89.15 L818.16,88.99 L820.66,88.84 L823.17,88.69 L825.67,88.54 L828.18,88.40 L830.68,88.25 L833.19,88.11 L835.69,87.97 L838.20,87.83 L840.70,87.69 L843.21,87.55 L845.71,87.41 L848.22,87.28 L850.72,87.15 L853.23,87.02 L855.74,86.89 L858.24,86.76 L860.75,86.64 L863.25,86.51 L865.76,86.39 L868.27,86.27 L870.77,86.15 L873.28,86.03 L875.79,85.92 L878.29,85.81 L880.80,85.69 L883.31,85.58 L885.81,85.48 L888.32,85.37 L890.83,85.26 L893.33,85.16 L895.84,85.06 L898.35,84.96 L900.86,84.86 L903.36,84.77 L905.87,84.67 L908.38,84.58 L910.89,84.49 L913.39,84.40 L915.90,84.31 L918.41,84.23 L920.92,84.14 L923.42,84.06 L925.93,83.98 L928.44,83.90 L930.95,83.83" stroke="#1a1a1a" stroke-width="5.8"/>
</g>
<path d="M557.7,519.8 L631.8,606.2" stroke="#231f20" stroke-width="2.6" stroke-linecap="round" fill="none"/>
</svg>
</body></html>
